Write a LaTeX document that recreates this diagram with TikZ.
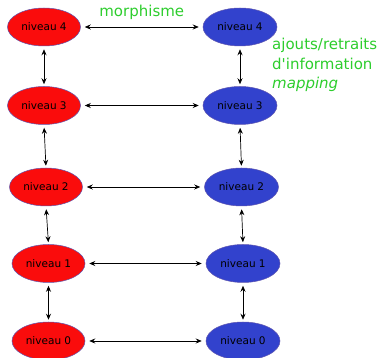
\documentclass[tikz,border=0pt]{standalone}
\usepackage{fontspec}
\setmainfont{DejaVu Sans}
\newfontfamily\notefont{DejaVu Sans}
\usetikzlibrary{shapes.geometric, arrows, arrows.meta}
\definecolor{lvlred}{RGB}{250,12,12}
\definecolor{lvlblue}{RGB}{50,66,205}
\definecolor{lvledge}{RGB}{95,85,175}
\definecolor{labgreen}{RGB}{45,205,45}
\tikzstyle{srclevel} = [ellipse, minimum width=73pt, minimum height=38pt, inner sep=0pt, draw=lvledge, line width=0.5pt, fill=lvlred, font=\fontsize{10.5}{12}\selectfont]
\tikzstyle{tgtlevel} = [ellipse, minimum width=74pt, minimum height=38pt, inner sep=0pt, draw=lvledge, line width=0.5pt, fill=lvlblue, font=\fontsize{10.5}{12}\selectfont]
\tikzstyle{arrow} = [line width=0.7pt, <->, >={Stealth[length=6pt, width=5pt, inset=2pt]}, shorten <=4pt, shorten >=4pt]
\tikzstyle{greentext} = [text=labgreen, font=\notefont\fontsize{15}{19.5}\selectfont]

\begin{document}
\begin{tikzpicture}[x=1pt, y=-1pt]
    \useasboundingbox (0,0) rectangle (384,358);

    % Source levels
    \node (s4) [srclevel] at (44,27) {niveau 4};
    \node (s3) [srclevel] at (44,105.5) {niveau 3};
    \node (s2) [srclevel] at (46,187) {niveau 2};
    \node (s1) [srclevel] at (48.5,263.5) {niveau 1};
    \node (s0) [srclevel] at (48.5,341) {niveau 0};

    % Target levels
    \node (t4) [tgtlevel] at (240,27) {niveau 4};
    \node (t3) [tgtlevel] at (240,105.5) {niveau 3};
    \node (t2) [tgtlevel] at (241.5,187) {niveau 2};
    \node (t1) [tgtlevel] at (243,263.5) {niveau 1};
    \node (t0) [tgtlevel] at (243,341) {niveau 0};

    % Morphisms between levels
    \draw [arrow] (s4.east) -- node[greentext, above=4pt] (morph) {morphisme} (t4.west);
    \draw [arrow] (s3.east) -- (t3.west);
    \draw [arrow] (s2.east) -- (t2.west);
    \draw [arrow] (s1.east) -- (t1.west);
    \draw [arrow] (s0.east) -- (t0.west);

    % Level changes
    \draw [arrow, shorten <=3pt, shorten >=2pt] (s4.south) -- (s3.north);
    \draw [arrow, shorten <=3pt, shorten >=2pt] (s3.south) -- (s2.north);
    \draw [arrow, shorten <=3pt, shorten >=2pt] (s2.south) -- (s1.north);
    \draw [arrow, shorten <=3pt, shorten >=2pt] (s1.south) -- (s0.north);
    \draw [arrow, shorten <=3pt, shorten >=2pt] (t4.south) -- (t3.north);
    \draw [arrow, shorten <=3pt, shorten >=2pt] (t3.south) -- (t2.north);
    \draw [arrow, shorten <=3pt, shorten >=2pt] (t2.south) -- (t1.north);
    \draw [arrow, shorten <=3pt, shorten >=2pt] (t1.south) -- (t0.north);

    % Note on level changes
    \node (note) [greentext, align=left, anchor=west, inner sep=0pt] at (272,65) {ajouts/retraits\\d'information\\\textit{mapping}};
\end{tikzpicture}
\end{document}
